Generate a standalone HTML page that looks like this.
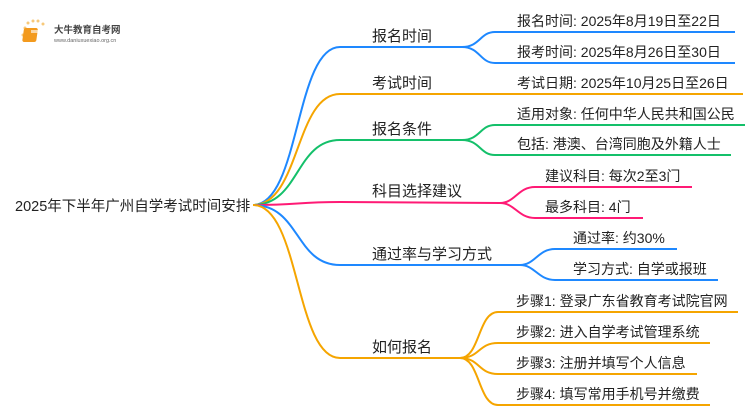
<!DOCTYPE html>
<html><head><meta charset="utf-8"><style>
html,body{margin:0;padding:0;background:#fff;}
svg{display:block;}
text{font-family:"Liberation Sans","Noto Sans CJK SC",sans-serif;fill:#222;}
</style></head><body>
<svg width="750" height="410" viewBox="0 0 750 410" xmlns="http://www.w3.org/2000/svg">
<!-- logo -->
<g>
<circle cx="25" cy="28" r="1.5" fill="#f7c97a"/><circle cx="28" cy="23" r="1.5" fill="#f7c97a"/><circle cx="33" cy="21" r="1.5" fill="#f7c97a"/><circle cx="38" cy="21" r="1.5" fill="#f7c97a"/><circle cx="43" cy="24" r="1.5" fill="#f7c97a"/><circle cx="23" cy="35" r="1.5" fill="#f7c97a"/>
<rect x="28" y="28" width="14" height="14" rx="2" fill="#f39a1e" transform="skewX(-8)"/>
<rect x="31" y="30" width="9" height="3" fill="#fff" opacity="0.6"/>
<text x="54" y="33" font-size="9.5" font-weight="bold" fill="#444" style="fill:#444">大牛教育自考网</text>
<text x="54" y="42" font-size="5.5" style="fill:#666">www.daniuxuexiao.org.cn</text>
</g>
<text x="15" y="211" font-size="14.5">2025年下半年广州自学考试时间安排</text>
<g fill="none" stroke-width="2">
<!-- level1 -->
<path d="M253,205 C300,205 295,47 340,47 L462,47" stroke="#1e88ff"/>
<path d="M253,205 C300,205 295,94 340,94 L462,94" stroke="#f5a500"/>
<path d="M253,205 C300,205 295,140 340,140 L462,140" stroke="#14c06a"/>
<path d="M253,205 C300,205 295,202 340,202 L500,203" stroke="#ff1a75"/>
<path d="M253,205 C300,205 295,265 340,265 L520,265" stroke="#1e88ff"/>
<path d="M253,205 C300,205 295,358 340,358 L460,358" stroke="#f5a500"/>
<!-- level2 -->
<path d="M462,47 C480,47 480,32 495,32 L735,32" stroke="#1e88ff"/>
<path d="M462,47 C480,47 480,63 495,63 L735,63" stroke="#1e88ff"/>
<path d="M462,94 L743,94" stroke="#f5a500"/>
<path d="M462,140 C480,140 480,125 495,125 L745,125" stroke="#14c06a"/>
<path d="M462,140 C480,140 480,155 495,155 L731,155" stroke="#14c06a"/>
<path d="M500,203 C515,203 518,187 535,187 L692,187" stroke="#ff1a75"/>
<path d="M500,203 C515,203 518,218 535,218 L643,218" stroke="#ff1a75"/>
<path d="M520,265 C535,265 538,249 555,249 L677,249" stroke="#1e88ff"/>
<path d="M520,265 C535,265 538,280 555,280 L718,280" stroke="#1e88ff"/>
<path d="M460,358 C480,358 478,312 498,312 L738,312" stroke="#f5a500"/>
<path d="M460,358 C480,358 478,343 498,343 L710,343" stroke="#f5a500"/>
<path d="M460,358 C480,358 478,374 498,374 L697,374" stroke="#f5a500"/>
<path d="M460,358 C480,358 478,405 498,405 L710,405" stroke="#f5a500"/>
</g>
<g font-size="15">
<text x="372" y="41">报名时间</text>
<text x="372" y="88">考试时间</text>
<text x="372" y="134">报名条件</text>
<text x="372" y="196">科目选择建议</text>
<text x="372" y="259">通过率与学习方式</text>
<text x="372" y="352">如何报名</text>
</g>
<g font-size="14">
<text x="517" y="26">报名时间: 2025年8月19日至22日</text>
<text x="517" y="57">报考时间: 2025年8月26日至30日</text>
<text x="517" y="88">考试日期: 2025年10月25日至26日</text>
<text x="517" y="119">适用对象: 任何中华人民共和国公民</text>
<text x="517" y="149">包括: 港澳、台湾同胞及外籍人士</text>
<text x="545" y="181">建议科目: 每次2至3门</text>
<text x="545" y="212">最多科目: 4门</text>
<text x="573" y="243">通过率: 约30%</text>
<text x="573" y="274">学习方式: 自学或报班</text>
<text x="516" y="306">步骤1: 登录广东省教育考试院官网</text>
<text x="516" y="337">步骤2: 进入自学考试管理系统</text>
<text x="516" y="368">步骤3: 注册并填写个人信息</text>
<text x="516" y="399">步骤4: 填写常用手机号并缴费</text>
</g>
</svg>
</body></html>
